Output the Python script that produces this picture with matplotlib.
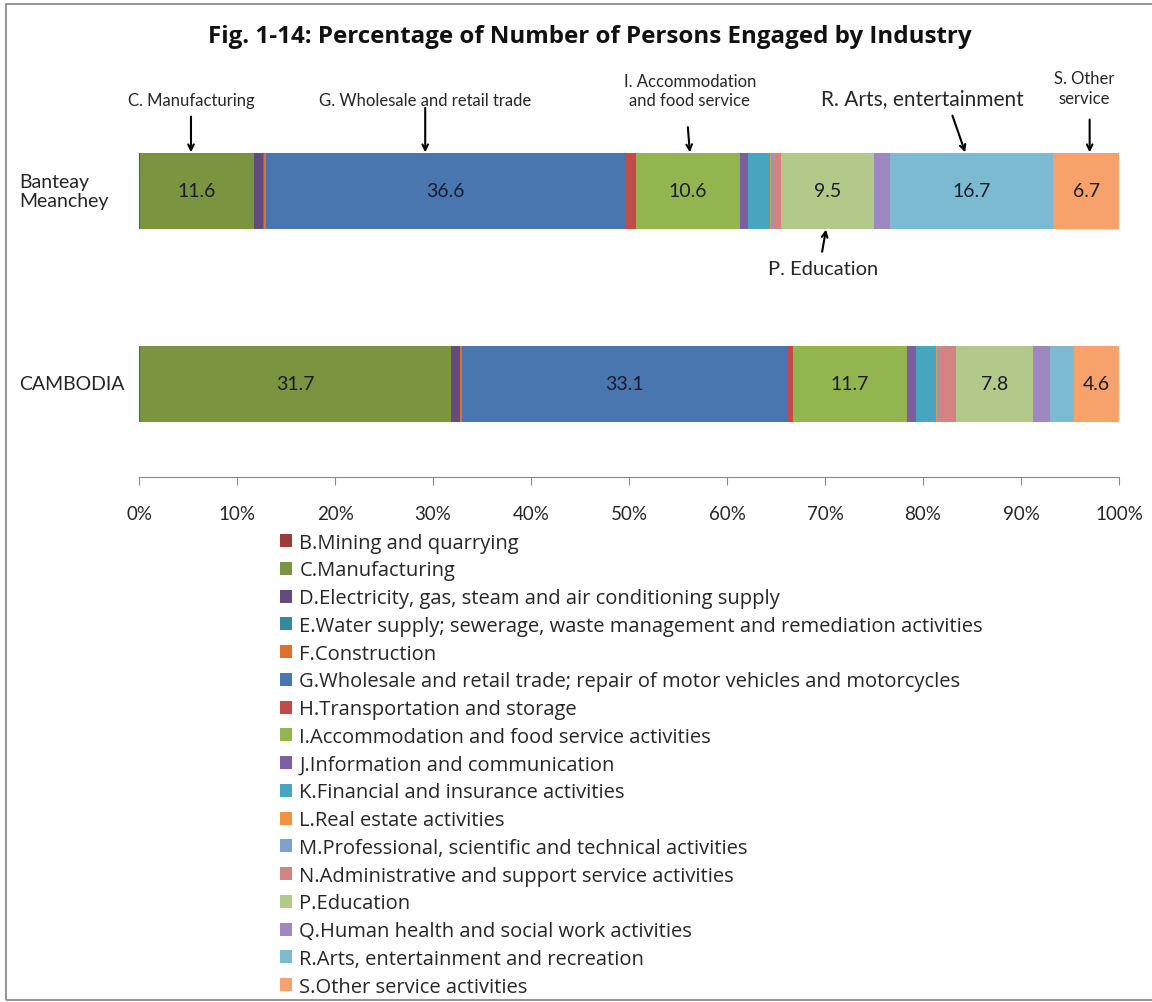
import matplotlib
matplotlib.use("Agg")
import matplotlib.pyplot as plt
from matplotlib.patches import Rectangle
import numpy as np

plt.rcParams['font.family'] = ['Lato', 'DejaVu Sans']

regions = ["CAMBODIA", "Banteay\nMeanchey"]

industries = [
    "B.Mining and quarrying",
    "C.Manufacturing",
    "D.Electricity, gas, steam and air conditioning supply",
    "E.Water supply; sewerage, waste management and remediation activities",
    "F.Construction",
    "G.Wholesale and retail trade; repair of motor vehicles and motorcycles",
    "H.Transportation and storage",
    "I.Accommodation and food service activities",
    "J.Information and communication",
    "K.Financial and insurance activities",
    "L.Real estate activities",
    "M.Professional, scientific and technical activities",
    "N.Administrative and support service activities",
    "P.Education",
    "Q.Human health and social work activities",
    "R.Arts, entertainment and recreation",
    "S.Other service activities",
]

# percentages, order follows industries
cambodia = [0.1, 31.7, 0.9, 0.1, 0.2, 33.1, 0.6, 11.7, 0.9, 2.0, 0.1, 0.2, 1.8, 7.8, 1.8, 2.4, 4.6]
banteay = [0.1, 11.6, 0.9, 0.2, 0.2, 36.6, 1.1, 10.6, 0.8, 2.3, 0.1, 0.2, 0.8, 9.5, 1.6, 16.7, 6.7]

# segments that carry a value label
labelled_cambodia = ["C", "G", "I", "P", "S"]
labelled_banteay = ["C", "G", "I", "P", "R", "S"]

colors = ["#9B3B3A", "#7A9440", "#634B7E", "#3389A0", "#E0712A", "#4A76B0",
          "#C24A48", "#93B550", "#7D5FA1", "#46A6C0", "#F0923F", "#7EA0CF",
          "#D48383", "#B2C98A", "#9F88C0", "#7CBAD2", "#F7A26B"]

fig = plt.figure(figsize=(11.52, 10.03), dpi=100)
ax = fig.add_axes([0.1207, 0.5234, 0.8507, 0.3809])

data = np.array([cambodia, banteay])
ypos = np.arange(len(regions))
left = np.zeros(len(regions))
for i, name in enumerate(industries):
    ax.barh(ypos, data[:, i], left=left, height=0.39, color=colors[i],
            linewidth=0, label=name)
    code = name[0]
    for r, lab in enumerate([labelled_cambodia, labelled_banteay]):
        if code in lab:
            ax.text(left[r] + data[r, i] / 2, ypos[r], f"{data[r, i]:.1f}",
                    ha="center", va="center", fontsize=14, color="#1c1c2c")
    left += data[:, i]

ax.set_xlim(0, 100)
ax.set_ylim(-0.482, 1.497)
ax.set_xticks(np.arange(0, 101, 10))
ax.set_xticklabels([f"{v}%" for v in range(0, 101, 10)], fontsize=13.5, color="#262626")
ax.tick_params(axis="x", direction="out", length=6, color="#8a8a8a", pad=14)
ax.set_yticks([])
for s in ["top", "right", "left"]:
    ax.spines[s].set_visible(False)
ax.spines["bottom"].set_color("#8a8a8a")

for y, name in zip(ypos, regions):
    ax.text(-12.2, y, name, ha="left", va="center", fontsize=14,
            color="#262626", linespacing=1.15)

# callouts
arrow = dict(arrowstyle="->", color="black", lw=1.5, shrinkA=0, shrinkB=0)
ax.text(5.3, 1.47, "C. Manufacturing", ha="center", va="center",
        fontsize=12, color="#262626")
ax.annotate("", xy=(5.3, 1.2), xytext=(5.3, 1.385), arrowprops=arrow)
ax.text(29.2, 1.47, "G. Wholesale and retail trade", ha="center", va="center",
        fontsize=12, color="#262626")
ax.annotate("", xy=(29.2, 1.2), xytext=(29.2, 1.43), arrowprops=arrow)
ax.text(56.2, 1.52, "I. Accommodation\nand food service", ha="center", va="center",
        fontsize=12, color="#262626", linespacing=1.3)
ax.annotate("", xy=(56.2, 1.2), xytext=(56.0, 1.33), arrowprops=arrow)
ax.text(79.9, 1.48, "R. Arts, entertainment", ha="center", va="center",
        fontsize=15, color="#262626")
ax.annotate("", xy=(84.3, 1.2), xytext=(83.0, 1.39), arrowprops=arrow)
ax.text(96.4, 1.535, "S. Other\nservice", ha="center", va="center",
        fontsize=12, color="#262626", linespacing=1.3)
ax.annotate("", xy=(97.0, 1.2), xytext=(97.0, 1.37), arrowprops=arrow)
ax.text(69.8, 0.6, "P. Education", ha="center", va="center",
        fontsize=14.5, color="#262626")
ax.annotate("", xy=(70.1, 0.8), xytext=(69.7, 0.685), arrowprops=arrow)

fig.text(0.512, 0.963, "Fig. 1-14: Percentage of Number of Persons Engaged by Industry",
         ha="center", va="center", fontsize=17.4, fontweight="bold", color="#111111",
         family=["Open Sans", "DejaVu Sans"])

handles, labels = ax.get_legend_handles_labels()
fig.legend(handles, labels, loc="upper left", bbox_to_anchor=(0.236, 0.476),
           frameon=False, handlelength=0.62, handleheight=0.62,
           handletextpad=0.35, labelspacing=0.385, borderaxespad=0, labelcolor="#262626",
           prop={"family": ["Open Sans", "DejaVu Sans"], "size": 14.5})

fig.patches.append(Rectangle((0.0052, 0.0015), 1.0, 0.9935, transform=fig.transFigure,
                             fill=False, edgecolor="#8c8c8c", linewidth=1.3))

fig.savefig("out.png", dpi=100)
